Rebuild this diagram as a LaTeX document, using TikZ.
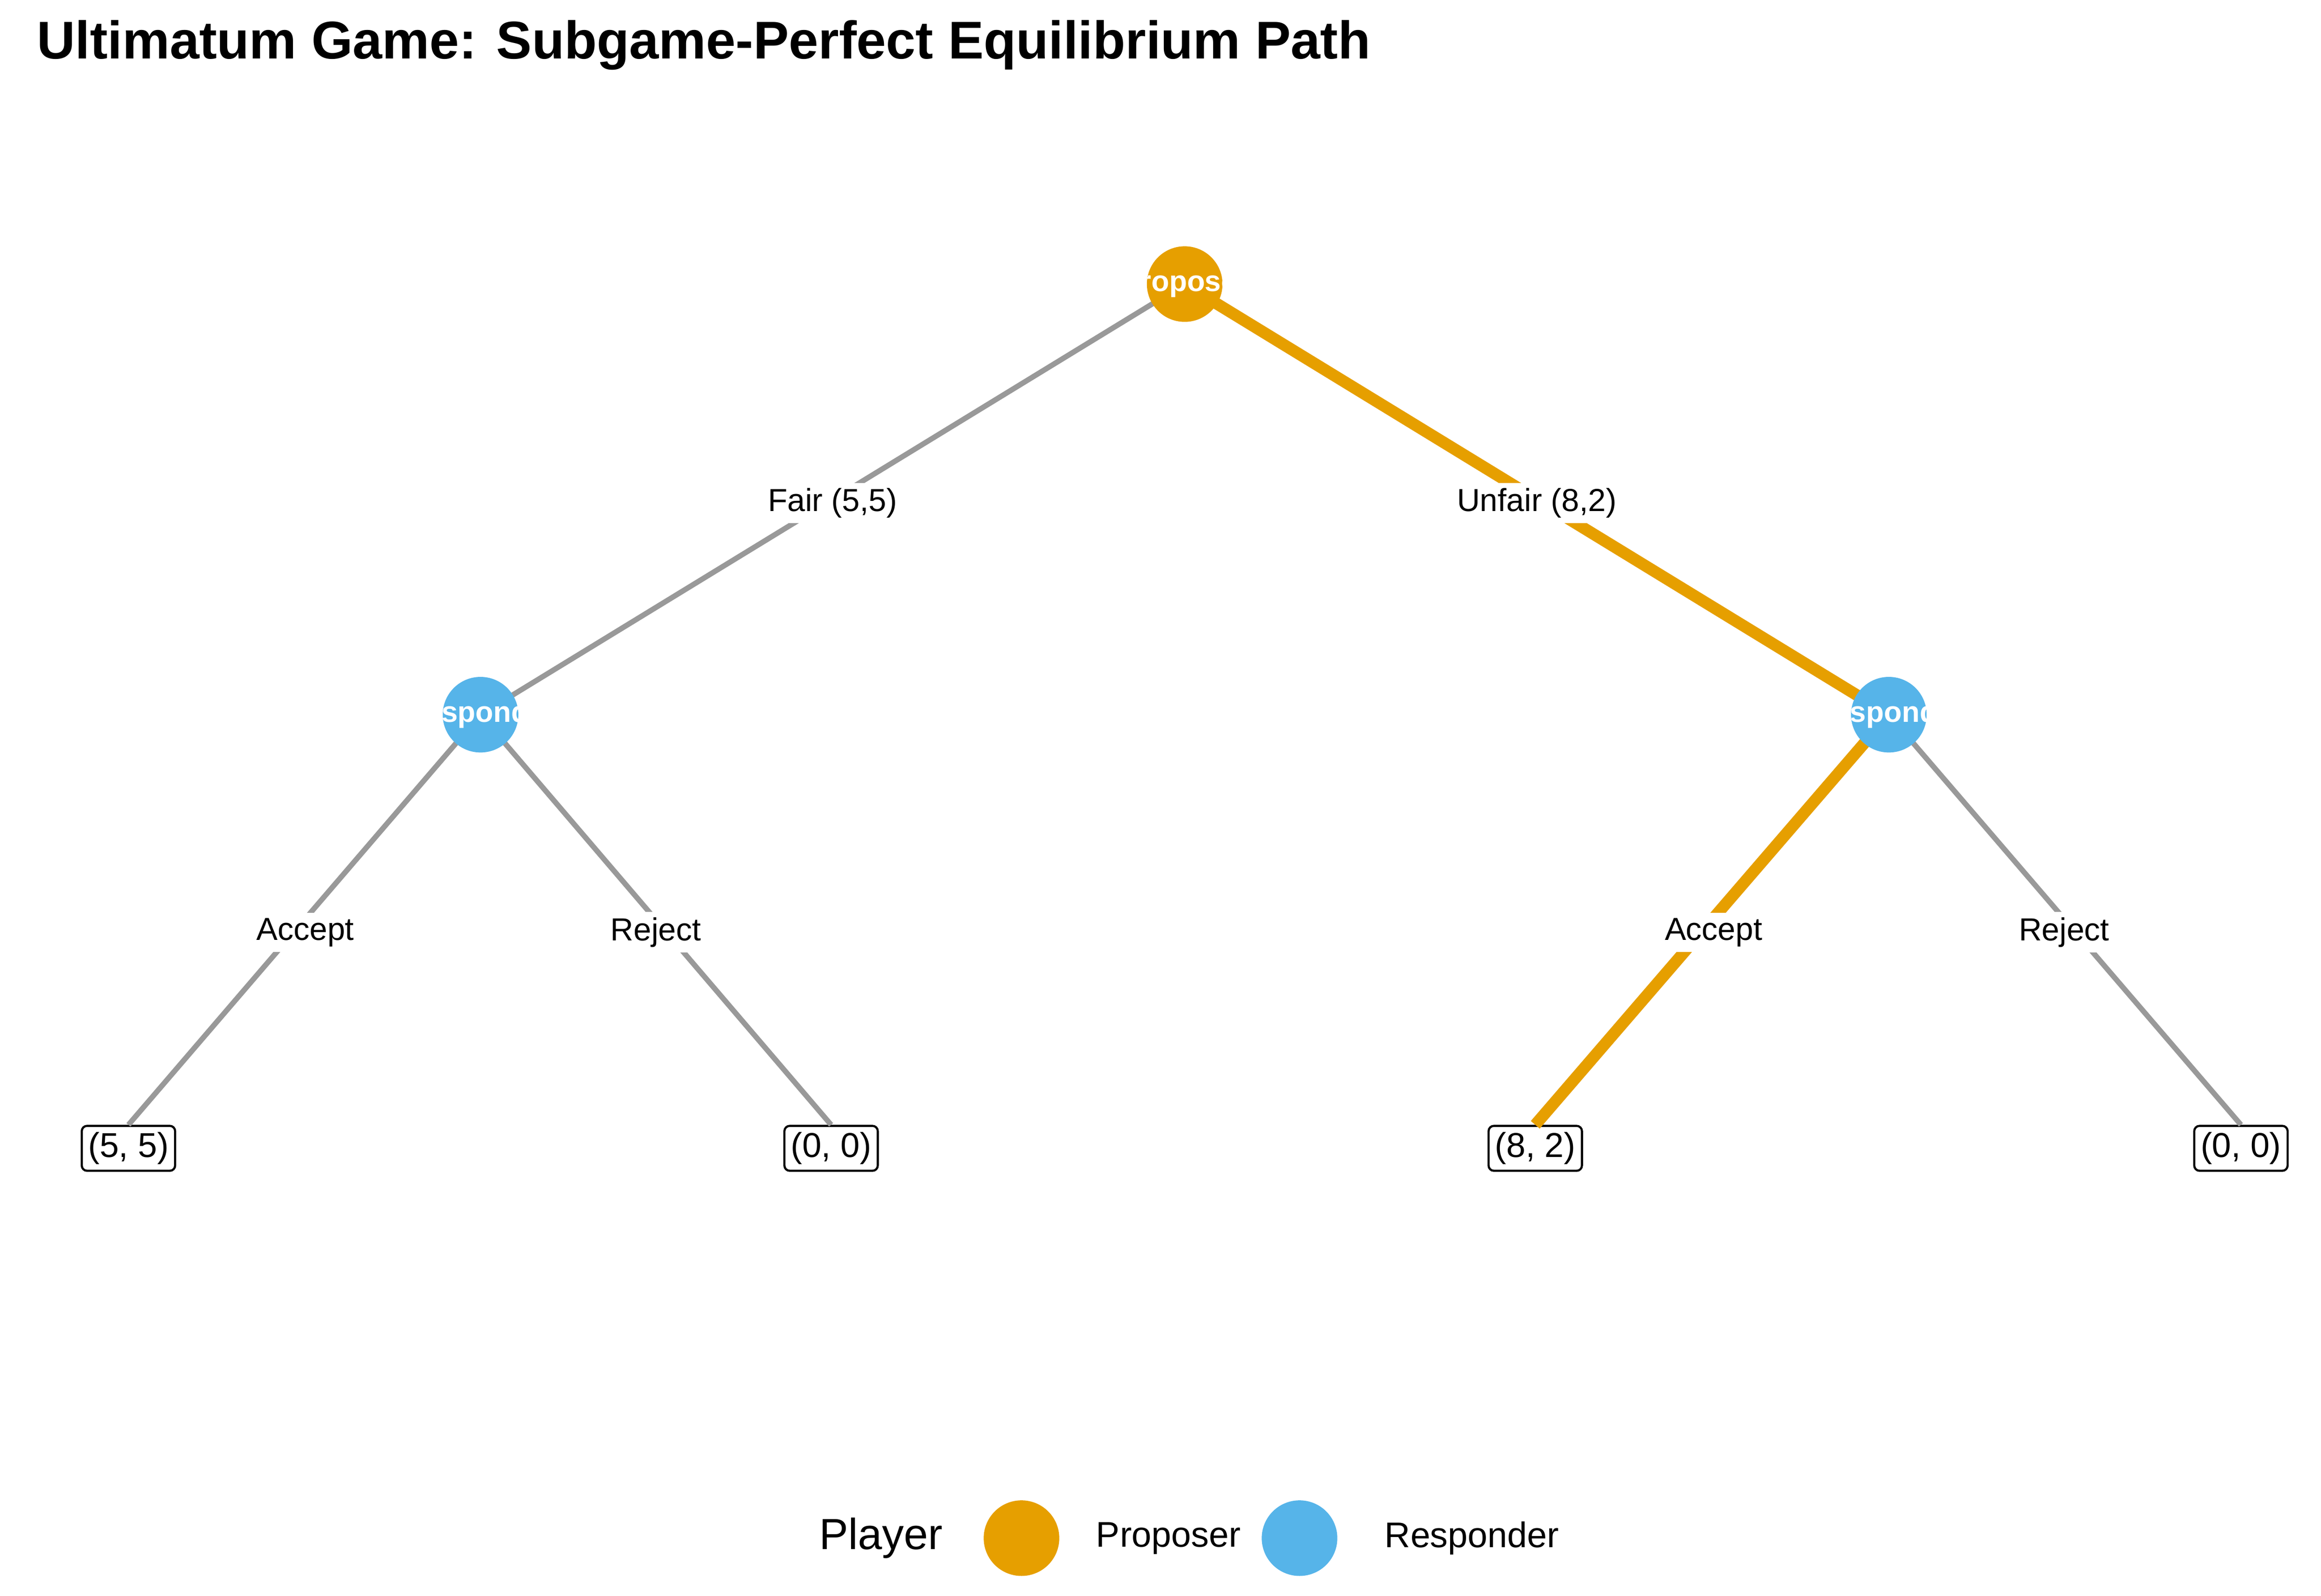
\documentclass[tikz,border=0pt]{standalone}
\usepackage{fontspec}
\setmainfont{Liberation Sans}
\usetikzlibrary{positioning}
\definecolor{propcol}{HTML}{E69F00}
\definecolor{respcol}{HTML}{56B4E9}
\definecolor{edgecol}{HTML}{999999}
\begin{document}
\begin{tikzpicture}[x=0.01cm,y=-0.01cm,
    player/.style = {circle, minimum size=0.5cm, inner sep=0pt,
        path picture={\node[text=white, font=\fontsize{5.5}{6}\selectfont\bfseries] at (path picture bounding box.center) {#1};}},
    payoff/.style = {draw, rounded corners=1pt, fill=white, inner sep=1.2pt, font=\fontsize{6.5}{7.5}\selectfont},
    move/.style = {fill=white, inner sep=1pt, font=\fontsize{6}{7}\selectfont},
    plain/.style = {draw=edgecol, line width=1pt},
    spe/.style = {draw=propcol, line width=2.2pt}]
    \useasboundingbox (0,0) rectangle (1536,1056);
    \node[anchor=west, font=\fontsize{10}{12}\selectfont\bfseries] (title) at (12,30) {Ultimatum Game: Subgame-Perfect Equilibrium Path};
    \begin{scope}
        \node[payoff] (LA) at (85,760) {(5, 5)};
        \node[payoff] (LR) at (550,760) {(0, 0)};
        \node[payoff] (RA) at (1016,760) {(8, 2)};
        \node[payoff] (RR) at (1483,760) {(0, 0)};
    \end{scope}
    \coordinate (P0) at (784,188);
    \coordinate (L0) at (318,473);
    \coordinate (R0) at (1250,473);
    \path[plain] (P0) -- (L0);
    \path[spe] (P0) -- (R0);
    \path[plain] (L0) -- (LA.north);
    \path[plain] (L0) -- (LR.north);
    \path[spe] (R0) -- (RA.north);
    \path[plain] (R0) -- (RR.north);
    \node[move] (m1) at (551,333) {Fair (5,5)};
    \node[move] (m2) at (1017,333) {Unfair (8,2)};
    \node[move] (m3) at (202,617) {Accept};
    \node[move] (m4) at (434,617) {Reject};
    \node[move] (m5) at (1134,617) {Accept};
    \node[move] (m6) at (1366,617) {Reject};
    \node[player=Proposer, fill=propcol] (P) at (P0) {};
    \node[player=Responder, fill=respcol] (L) at (L0) {};
    \node[player=Responder, fill=respcol] (R) at (R0) {};
    % legend
    \node[font=\fontsize{8.2}{10}\selectfont] (legtitle) at (583,1018) {Player};
    \node[player={}, fill=propcol] (legP) at (676,1018) {};
    \node[anchor=west, font=\fontsize{6.7}{8}\selectfont] (legPt) at (713,1018) {Proposer};
    \node[player={}, fill=respcol] (legR) at (860,1018) {};
    \node[anchor=west, font=\fontsize{6.7}{8}\selectfont] (legRt) at (904,1018) {Responder};
\end{tikzpicture}
\end{document}
